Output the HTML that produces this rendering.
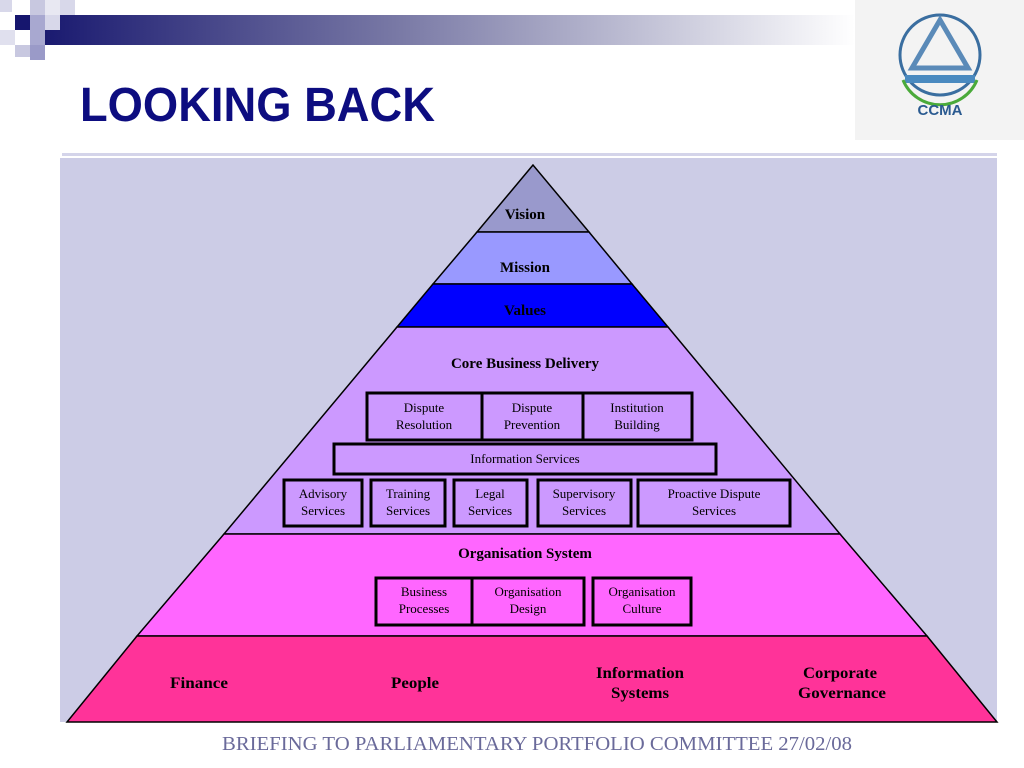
<!DOCTYPE html>
<html><head><meta charset="utf-8"><style>
html,body{margin:0;padding:0;background:#fff;}
svg{display:block}
</style></head><body>
<svg width="1024" height="768" viewBox="0 0 1024 768" xmlns="http://www.w3.org/2000/svg" font-family="Liberation Serif, serif">
<defs>
<linearGradient id="g" x1="0" x2="1" y1="0" y2="0">
<stop offset="0" stop-color="#16166e"/><stop offset="0.45" stop-color="#7a7aa6"/><stop offset="1" stop-color="#ffffff"/>
</linearGradient>
</defs>
<rect x="0" y="0" width="1024" height="768" fill="#fff"/>
<rect x="30" y="15" width="825" height="30" fill="url(#g)"/>
<rect x="0" y="0" width="12" height="12" fill="#d8d8ea"/>
<rect x="15" y="15" width="15" height="15" fill="#16166e"/>
<rect x="30" y="0" width="15" height="15" fill="#c8c8e0"/>
<rect x="45" y="0" width="15" height="15" fill="#e8e8f2"/>
<rect x="60" y="0" width="15" height="15" fill="#d8d8ea"/>
<rect x="30" y="15" width="15" height="30" fill="#a8a8d0"/>
<rect x="45" y="15" width="15" height="15" fill="#d8d8ea"/>
<rect x="0" y="30" width="15" height="15" fill="#e0e0ee"/>
<rect x="15" y="45" width="15" height="12" fill="#c8c8e0"/>
<rect x="30" y="45" width="15" height="15" fill="#9a9ac8"/>
<text x="80" y="121" font-family="Liberation Sans, sans-serif" font-weight="bold" font-size="48" fill="#0d0d80" textLength="355" lengthAdjust="spacingAndGlyphs">LOOKING BACK</text>
<rect x="855" y="0" width="169" height="140" fill="#f3f3f3"/>
<circle cx="940" cy="55" r="40" fill="none" stroke="#3a6ea0" stroke-width="3"/>
<path d="M940 20 L912 68 L968 68 Z" fill="none" stroke="#5a8ab8" stroke-width="5"/>
<rect x="905" y="75" width="70" height="8" fill="#4a8ac0"/>
<path d="M903 80 A40 40 0 0 0 977 80" fill="none" stroke="#4aaa3a" stroke-width="3"/>
<text x="940" y="115" text-anchor="middle" font-family="Liberation Sans, sans-serif" font-weight="bold" font-size="15" fill="#2a5a90">CCMA</text>
<rect x="62" y="153" width="935" height="3" fill="#d4d4ea"/>
<rect x="60" y="158" width="937" height="564" fill="#ccccE6"/>
<g stroke="#000" stroke-width="1.5">
<polygon points="533,165 477,232 589,232" fill="#9999cc"/>
<polygon points="477,232 589,232 632,284 433,284" fill="#9999ff"/>
<polygon points="433,284 632,284 668,327 397,327" fill="#0000ff"/>
<polygon points="397,327 668,327 840,534 224,534" fill="#cc99ff"/>
<polygon points="224,534 840,534 927,636 137,636" fill="#ff66ff"/>
<polygon points="137,636 927,636 997,722 67,722" fill="#ff3399"/>
</g>
<g font-weight="bold" font-size="15" text-anchor="middle" fill="#000">
<text x="525" y="219">Vision</text>
<text x="525" y="272">Mission</text>
<text x="525" y="315">Values</text>
<text x="525" y="368">Core Business Delivery</text>
<text x="525" y="558">Organisation System</text>
</g>
<g font-weight="bold" font-size="16" text-anchor="middle" fill="#000">
<text x="199" y="688" textLength="58" lengthAdjust="spacingAndGlyphs">Finance</text>
<text x="415" y="688" textLength="48" lengthAdjust="spacingAndGlyphs">People</text>
<text x="640" y="678" textLength="88" lengthAdjust="spacingAndGlyphs">Information</text>
<text x="640" y="698" textLength="58" lengthAdjust="spacingAndGlyphs">Systems</text>
<text x="840" y="678" textLength="74" lengthAdjust="spacingAndGlyphs">Corporate</text>
<text x="842" y="698" textLength="88" lengthAdjust="spacingAndGlyphs">Governance</text>
</g>
<g fill="#cc99ff" stroke="#000" stroke-width="3">
<rect x="367" y="393" width="115" height="47"/>
<rect x="482" y="393" width="101" height="47"/>
<rect x="583" y="393" width="109" height="47"/>
<rect x="334" y="444" width="382" height="30"/>
<rect x="284" y="480" width="78" height="46"/>
<rect x="371" y="480" width="74" height="46"/>
<rect x="454" y="480" width="73" height="46"/>
<rect x="538" y="480" width="93" height="46"/>
<rect x="638" y="480" width="152" height="46"/>
</g>
<g fill="#ff66ff" stroke="#000" stroke-width="3">
<rect x="376" y="578" width="96" height="47"/>
<rect x="472" y="578" width="112" height="47"/>
<rect x="593" y="578" width="98" height="47"/>
</g>
<g font-size="13" text-anchor="middle" fill="#000">
<text x="424" y="412">Dispute</text><text x="424" y="429">Resolution</text>
<text x="532" y="412">Dispute</text><text x="532" y="429">Prevention</text>
<text x="637" y="412">Institution</text><text x="637" y="429">Building</text>
<text x="525" y="463">Information Services</text>
<text x="323" y="498">Advisory</text><text x="323" y="515">Services</text>
<text x="408" y="498">Training</text><text x="408" y="515">Services</text>
<text x="490" y="498">Legal</text><text x="490" y="515">Services</text>
<text x="584" y="498">Supervisory</text><text x="584" y="515">Services</text>
<text x="714" y="498">Proactive Dispute</text><text x="714" y="515">Services</text>
<text x="424" y="596">Business</text><text x="424" y="613">Processes</text>
<text x="528" y="596">Organisation</text><text x="528" y="613">Design</text>
<text x="642" y="596">Organisation</text><text x="642" y="613">Culture</text>
</g>
<text x="222" y="750" font-size="20" fill="#6a6a9a" textLength="630" lengthAdjust="spacingAndGlyphs">BRIEFING TO PARLIAMENTARY PORTFOLIO COMMITTEE 27/02/08</text>
</svg>
</body></html>
